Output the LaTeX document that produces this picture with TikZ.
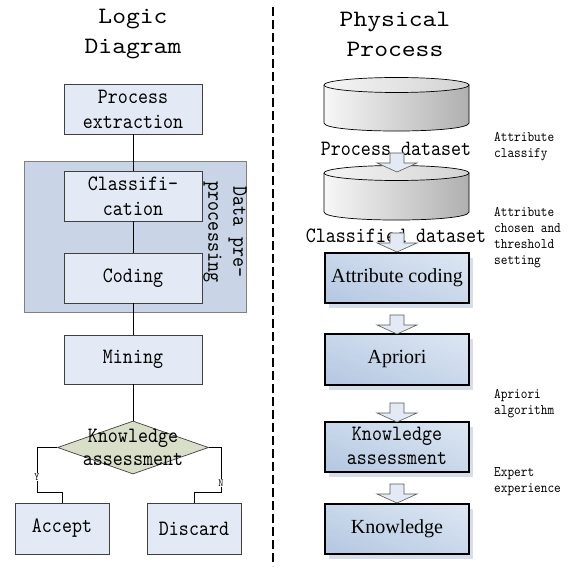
\documentclass[tikz,border=0pt]{standalone}
\usepackage{fontspec}
\setmainfont{Liberation Serif}
% narrow, tall typewriter faces for the flow labels
\newfontfamily\monof[Extension=.otf, FakeStretch=0.87]{lmmono10-regular}
\newfontfamily\titlef[Extension=.otf, FakeStretch=1.12]{lmmono10-regular}
\usetikzlibrary{shapes.geometric,shadings}

\definecolor{boxfill}{RGB}{228,234,245}
\definecolor{grpfill}{RGB}{201,213,230}
\definecolor{diafill}{RGB}{217,222,201}
\definecolor{gradlight}{RGB}{221,231,243}
\definecolor{graddark}{RGB}{180,199,225}
\definecolor{gradmid}{RGB}{200,215,234}
\definecolor{shadowc}{RGB}{214,222,236}
\definecolor{edgegray}{RGB}{64,64,64}

\tikzset{
  titletext/.style={font=\titlef\fontsize{23.5}{30}\selectfont, align=center, inner sep=0},
  flowtext/.style={font=\monof\fontsize{21.9}{25}\selectfont, align=center},
  notetext/.style={font=\monof\fontsize{14.6}{16}\selectfont, align=left, anchor=west, inner sep=0},
  logicbox/.style={draw=edgegray, line width=0.7pt, fill=boxfill, inner sep=0,
    minimum width=138pt, minimum height=50pt, flowtext},
  leafbox/.style={logicbox, minimum width=94pt, minimum height=51pt},
  groupbox/.style={draw=gray, line width=0.7pt, fill=grpfill, inner sep=0,
    minimum width=222pt, minimum height=151pt},
  decision/.style={diamond, draw=edgegray, line width=0.7pt, fill=diafill, inner sep=0,
    minimum width=151pt, minimum height=53pt},
  link/.style={line width=0.7pt, black},
  branchlabel/.style={font=\monof\fontsize{11}{11}\selectfont, fill=white, inner sep=0.5pt},
  procbox/.style={draw=black, line width=1.8pt, inner sep=0,
    minimum width=144pt, minimum height=50pt},
  blockarrow/.pic={
    \filldraw[fill=boxfill, draw=gray!70!black, line width=0.6pt]
      (-7,0) -- (-7,10) -- (-20,10) -- (0,19) -- (20,10) -- (7,10) -- (7,0) -- cycle;
  },
}

% a gradient-filled process step with a soft drop shadow
\newcommand\procstep[5]{% name, x, y, height, text
  \fill[shadowc] (#2-72+4,#3-#4/2+5) rectangle (#2+72+4,#3+#4/2+5);
  \shade[upper right=gradlight, lower left=graddark, upper left=gradmid, lower right=gradmid]
    (#2-72,#3-#4/2) rectangle (#2+72,#3+#4/2);
  \node[procbox, minimum height=#4pt] (#1) at (#2,#3) {#5};
}

% a grey database drum: centre x, top y, bottom y
\newcommand\drum[3]{%
  \shade[left color=gray!6, right color=gray!62]
    (#1-72.5,#2) -- (#1-72.5,#3) .. controls (#1-72.5,#3+10.7) and (#1+72.5,#3+10.7) .. (#1+72.5,#3)
    -- (#1+72.5,#2) -- cycle;
  \draw[line width=0.7pt]
    (#1-72.5,#2) -- (#1-72.5,#3) .. controls (#1-72.5,#3+10.7) and (#1+72.5,#3+10.7) .. (#1+72.5,#3)
    -- (#1+72.5,#2);
  \shade[left color=gray!8, right color=gray!35, draw=black, line width=0.7pt]
    (#1,#2) ellipse [x radius=72.5, y radius=7.5];
}

\begin{document}
\begin{tikzpicture}[x=1pt, y=-1pt]
\useasboundingbox (0,0) rectangle (568,569);
\fill[white] (0,0) rectangle (568,569);

% ---------- column titles ----------
\node[titletext] (tl) at (133,34) {Logic\\Diagram};
\node[titletext] (tr) at (395,34) {Physical\\Process};

% ---------- separator ----------
\coordinate (sepTop) at (273,7);
\coordinate (sepBot) at (273,566);
\draw[line width=1.4pt, dash pattern=on 9pt off 4pt] (sepTop) -- (sepBot);

% ---------- logic diagram ----------
\node[groupbox] (grp) at (135,236.5) {};
\node[flowtext, rotate=-90] (grplabel) at (225,232) {Data pre-\\processing};

\node[logicbox] (pe)  at (133,109)   {Process\\extraction};
\node[logicbox] (cls) at (133,196)   {Classifi-\\cation};
\node[logicbox] (cod) at (133,278)   {Coding};
\node[logicbox, minimum height=49pt] (mine) at (133,359.5) {Mining};
\node[decision] (dia) at (133,447.5) {};
\node[flowtext, inner sep=0, font=\monof\fontsize{21.9}{23}\selectfont] (dialabel) at (dia.center) {Knowledge\\assessment};
\node[leafbox] (acc) at (62,528.5)  {Accept};
\node[leafbox] (dis) at (194,528.5) {Discard};

\draw[link] (pe.south) -- (cls.north);
\draw[link] (cls.south) -- (cod.north);
\draw[link] (cod.south) -- (mine.north);
\draw[link] (mine.south) -- (dia.north);

\coordinate (yk) at (37,492);
\coordinate (nk) at (221,492);
\draw[link] (dia.west) -| (yk) -| (acc.north);
\draw[link] (dia.east) -| (nk) -| (dis.north);
\node[branchlabel] (ylab) at (37,477) {Y};
\node[branchlabel] (nlab) at (221,483) {N};

% ---------- physical process ----------
\drum{396.5}{85}{123}
\node[flowtext, inner sep=0] (pds) at (396,149) {Process dataset};
\drum{396.5}{173}{212}
\node[flowtext, inner sep=0] (cds) at (396,236) {Classified dataset};

\procstep{ac}{397}{278}{50}{\fontsize{20}{24}\selectfont Attribute coding}
\procstep{ap}{397}{359.5}{51}{\fontsize{20}{24}\selectfont Apriori}
\procstep{ka}{397}{447}{50}{\monof\fontsize{21.9}{25}\selectfont\begin{tabular}{@{}c@{}}Knowledge\\[-1pt]assessment\end{tabular}}
\procstep{kn}{397}{529}{50}{\fontsize{20}{24}\selectfont Knowledge}

\pic at (397,153) {blockarrow};
\pic at (397,233) {blockarrow};
\pic at (397,315) {blockarrow};
\pic at (397,403) {blockarrow};
\pic at (397,484) {blockarrow};

% ---------- side notes ----------
\node[notetext] (n1) at (494,146.5) {Attribute\\classify};
\node[notetext] (n2) at (494,237.5) {Attribute\\chosen and\\threshold\\setting};
\node[notetext] (n3) at (494,403.5) {Apriori\\algorithm};
\node[notetext] (n4) at (494,482)   {Expert\\experience};
\end{tikzpicture}
\end{document}
